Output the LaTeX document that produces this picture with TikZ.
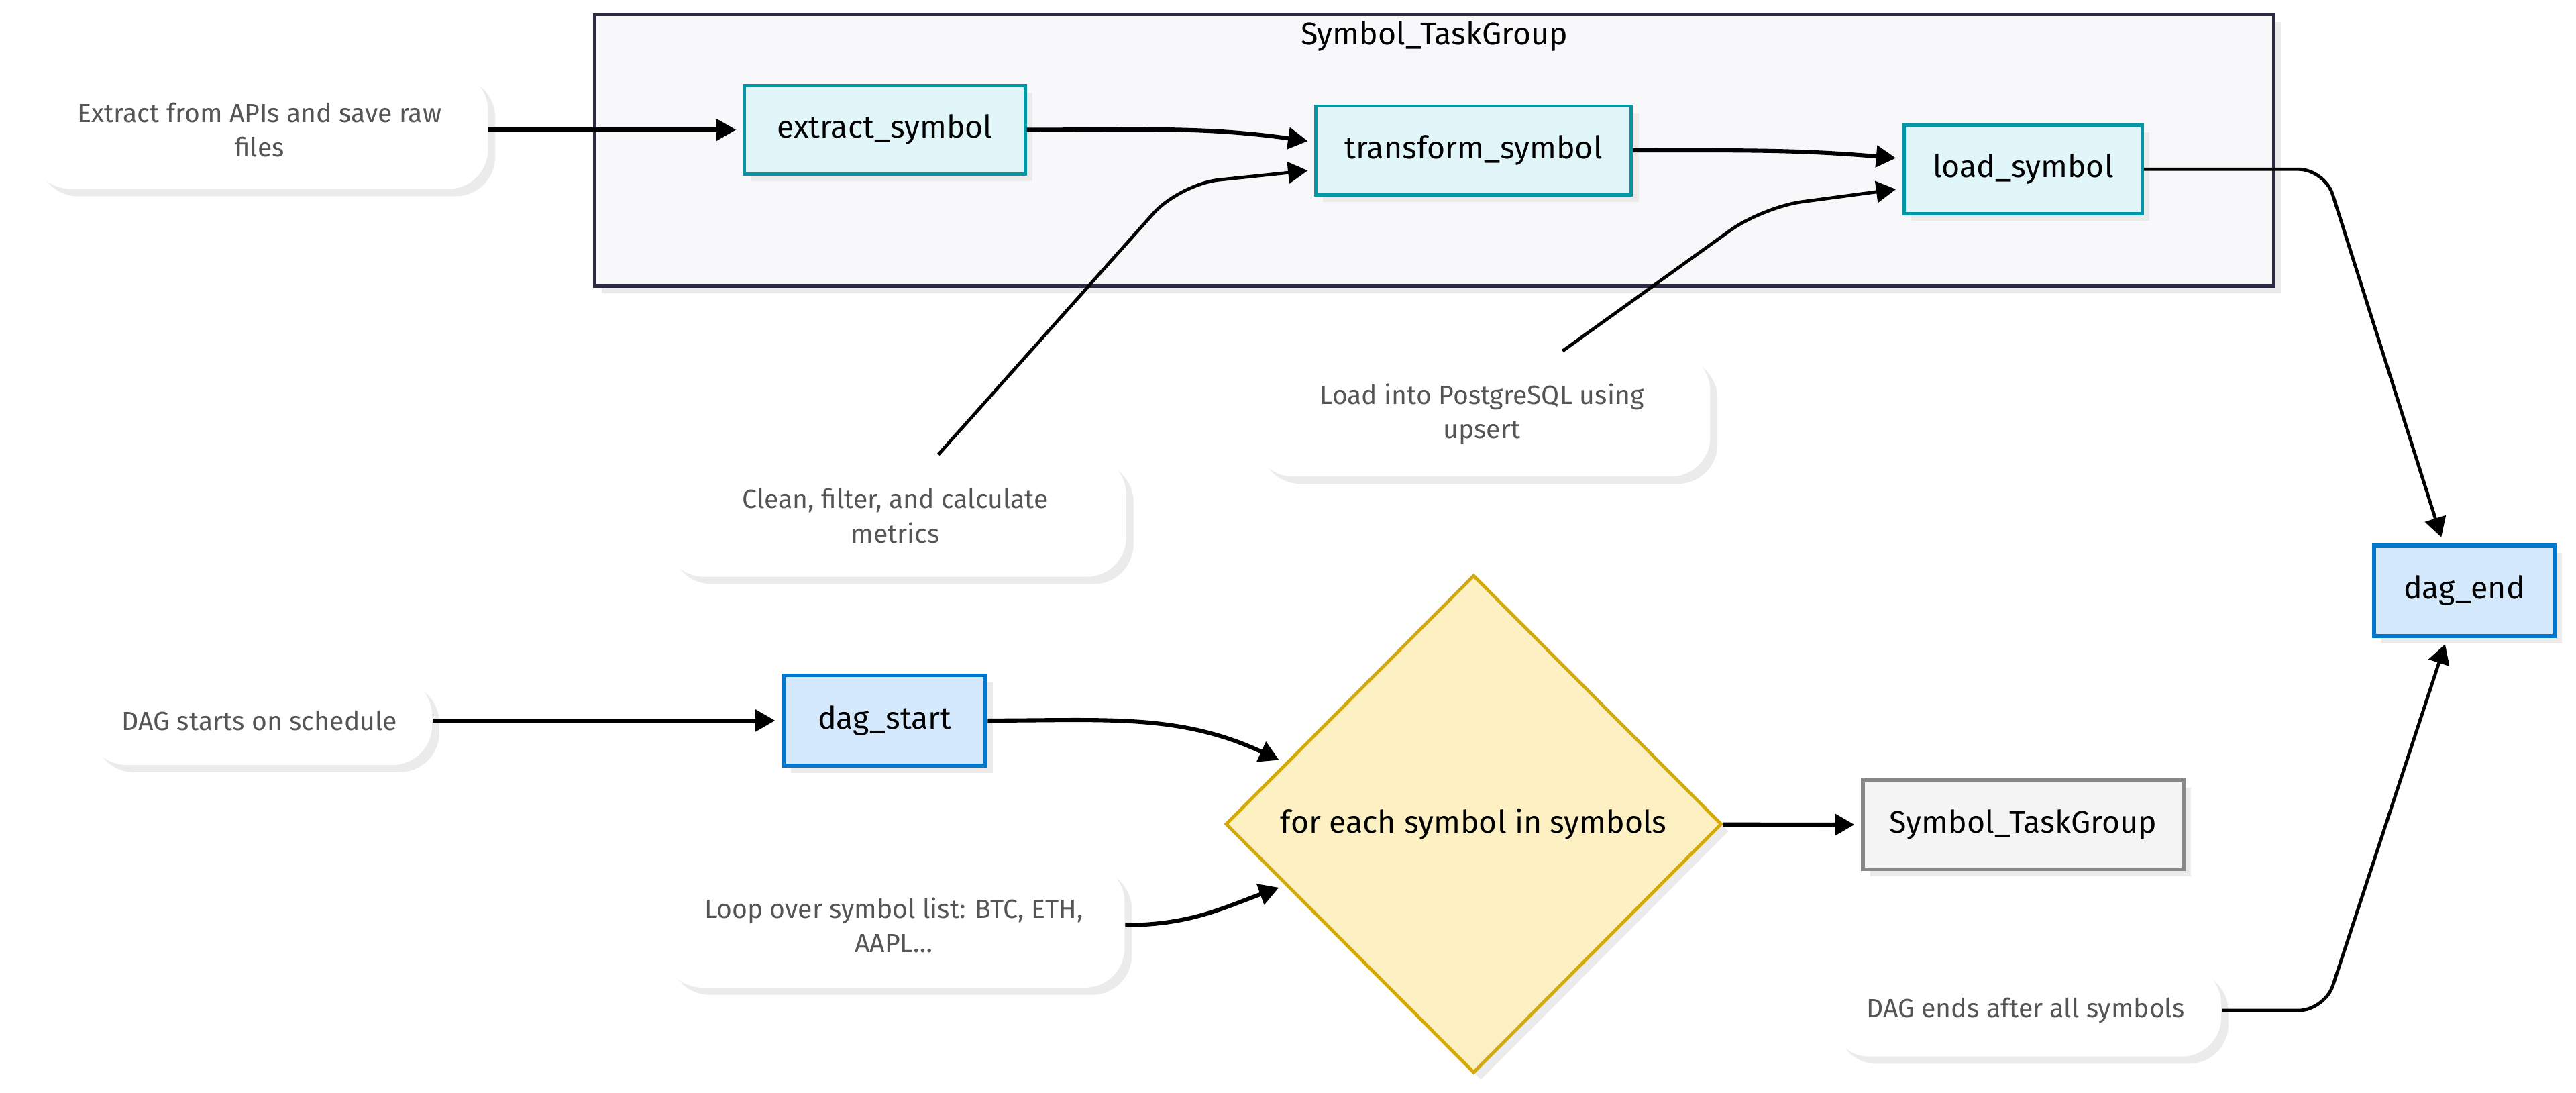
\documentclass[tikz,border=0pt]{standalone}
\usepackage{fontspec}
\setmainfont{Fira Sans}
\usepackage{tikz}
\usetikzlibrary{shapes}
\usetikzlibrary{positioning}
\usetikzlibrary{arrows.meta,shadows}

\definecolor{grpfill}{HTML}{F8F8FA}
\definecolor{grpline}{HTML}{2B2B42}
\definecolor{taskfill}{HTML}{E0F6F9}
\definecolor{taskline}{HTML}{0097A7}
\definecolor{dagfill}{HTML}{D4E9FC}
\definecolor{dagline}{HTML}{0277CC}
\definecolor{loopfill}{HTML}{FDF0C2}
\definecolor{loopline}{HTML}{D4A90A}
\definecolor{tgfill}{HTML}{F4F4F4}
\definecolor{tgline}{HTML}{888888}
\definecolor{shadowgray}{HTML}{EBEBEC}
\definecolor{notetext}{HTML}{555555}

\begin{document}
\begin{tikzpicture}[>={Triangle[length=6pt,width=6.5pt]},shorten >=2pt,x=0.5pt,y=0.5pt,
	box shadow/.style={drop shadow={shadow xshift=2.2pt,shadow yshift=-2.2pt,fill=shadowgray,opacity=1}},
	main text/.style={font=\fontsize{9.5}{11.4}\selectfont},
	grp node/.style={rectangle,draw=grpline,fill=grpfill,line width=1pt,minimum width=511pt,minimum height=82.5pt,box shadow},
	task node/.style={rectangle,draw=taskline,fill=taskfill,line width=1pt,minimum height=27pt,main text,box shadow},
	dag node/.style={rectangle,draw=dagline,fill=dagfill,line width=1.2pt,minimum height=27.5pt,main text,box shadow},
	tg node/.style={rectangle,draw=tgline,fill=tgfill,line width=1.2pt,minimum height=27pt,main text,box shadow},
	loop node/.style={diamond,aspect=1,draw=loopline,fill=loopfill,line width=1pt,inner sep=0pt,minimum width=151pt,minimum height=151.5pt,main text,box shadow},
	note node/.style={rectangle,rounded corners=12pt,fill=white,text=notetext,align=center,font=\fontsize{8}{10.5}\selectfont,box shadow},
	flow/.style={->,line width=1.25pt},
	thin flow/.style={->,line width=1pt}]

	      \fill[white] (0,0) rectangle (1568,665);
	      \useasboundingbox (0,0) rectangle (1568,665);

	      % task group frame
	      \node[grp node] at (873,573.5) (grp) {};
	      \node[main text] at (873,643) (grp title) {Symbol\_TaskGroup};

	      \node[task node,minimum width=85.5pt] at (538.5,586) (extract) {extract\_symbol};
	      \node[task node,minimum width=96pt] at (897,573.5) (transform) {transform\_symbol};
	      \node[task node,minimum width=72.5pt] at (1231.5,562) (load) {load\_symbol};

	      \node[dag node,minimum width=61.5pt] at (538.5,226.5) (start) {dag\_start};
	      \node[dag node,minimum width=55pt] at (1500,305.5) (end) {dag\_end};
	      \node[loop node] at (897,163.5) (loop) {for each symbol in symbols};
	      \node[tg node,minimum width=97.5pt] at (1231.5,163) (tg) {Symbol\_TaskGroup};

	      % notes
	      \node[note node,minimum width=139pt,minimum height=36pt] at (158,586) (n extract) {Extract from APIs and save raw\\files};
	      \node[note node,minimum width=140.5pt,minimum height=37pt] at (545,351) (n clean) {Clean, filter, and calculate\\metrics};
	      \node[note node,minimum width=139pt,minimum height=38pt] at (902,413) (n load) {Load into PostgreSQL using\\upsert};
	      \node[note node,minimum width=105pt,minimum height=27pt] at (158,226.5) (n start) {DAG starts on schedule};
	      \node[note node,minimum width=140.5pt,minimum height=38pt] at (544,102) (n loop) {Loop over symbol list: BTC, ETH,\\AAPL…};
	      \node[note node,minimum width=119pt,minimum height=28pt] at (1233,50) (n end) {DAG ends after all symbols};

	      \path[flow]
	      (n extract) edge (extract)
	      (extract.east) edge[out=0,in=172] (transform.177)
	      (transform.east) edge[out=0,in=175] (load.175)
	      (n start) edge (start)
	      (start.east) edge[out=0,in=155] (loop.162)
	      (n loop.east) edge[out=0,in=200] (loop.198)
	      (loop) edge (tg)
	      ;

	      \draw[thin flow,rounded corners=12pt] (n clean.55) -- (718,553) -- (transform.187);
	      \draw[thin flow,rounded corners=12pt] (n load.38) -- (1073,539) -- (load.189);
	      \draw[thin flow,rounded corners=8pt] (load.east) -- (1415,562) -- (end.114);
	      \draw[thin flow,rounded corners=8pt] (n end.east) -- (1415,50) -- (end.250);

	    \end{tikzpicture}
\end{document}
